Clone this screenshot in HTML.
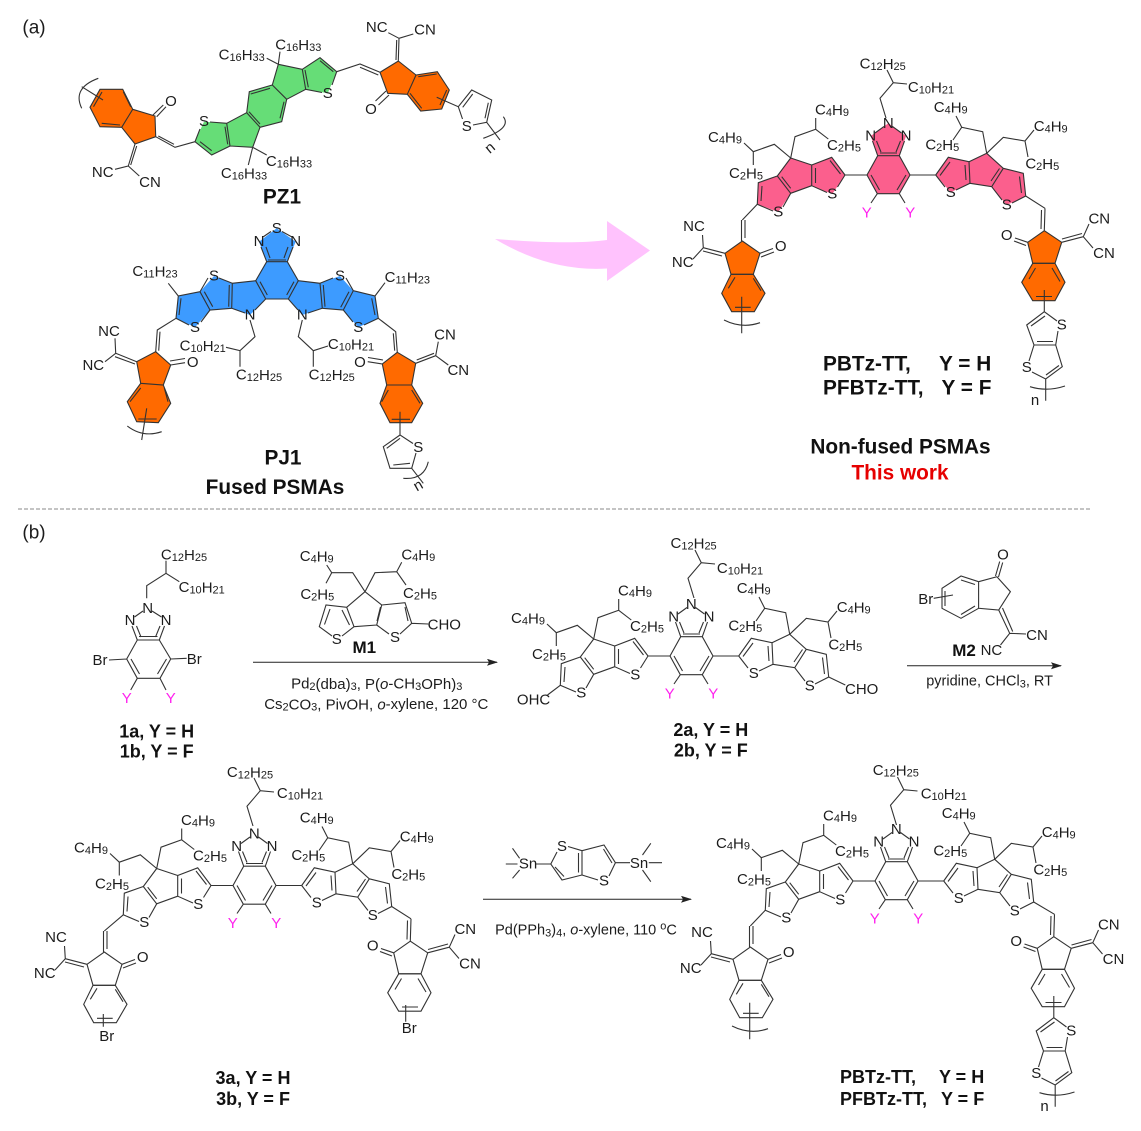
<!DOCTYPE html>
<html><head><meta charset="utf-8"><title>PSMAs</title>
<style>
html,body{margin:0;padding:0;background:#fff}
svg{display:block}
text{font-family:"Liberation Sans",sans-serif;font-size:15px;fill:#1c1c1c;text-anchor:middle;dominant-baseline:central}
.s{font-size:11px}
.b{font-weight:bold;font-size:18px;fill:#111}
.m{font-size:17px}
.B{font-weight:bold;font-size:20.8px;fill:#111}
.h{font-size:19px}
.y{fill:#ff22ee}
.l{text-anchor:start}
.sk{fill:none;stroke:#333;stroke-width:1.1}
</style></head><body>
<svg width="1141" height="1131" viewBox="0 0 1141 1131" xmlns="http://www.w3.org/2000/svg">
<defs>
<g id="core" class="sk">
<path d="M877.7 155.7L899.3 155.7L910 175L899.3 193.7L877.3 193.7L867 175ZM880 153L897 153M871 175L879.5 190M906 175L897 190M877.7 155.7L872.5 141M881 152L876.5 141M899.3 155.7L904.5 141M896 152L900.5 141M875 133L884 126.5M892.5 126.5L901.5 133M877.3 193.7L871 203M899.3 193.7L905 203M867 175L845 175M910 175L935.7 175"/>
<path d="M845 175L831.7 157.3L811.7 165L811.7 185.7L827 192.5M845 175L837.5 187M840.5 174L830 160.5M815.5 168L815.5 183M790.7 158L811.7 165M811.7 185.7L790.7 193.3L777.3 176L790.7 158M781.7 176.7L790.7 188.3M777.3 176L758.3 182.7L757.3 204.3L773 211M762 186L761 201M790.7 193.3L783 207"/>
<path d="M790.7 158L795 136.7L815.7 129.3L815.7 118M815.7 129.3L828.3 139M790.7 158L774.3 144.3L753.3 151.7L744 143M753.3 151.7L753.3 165M986.7 153.3L982.7 131.7L961.7 127.3L956 116M961.7 127.3L953 140M986.7 153.3L1003.3 137.3L1025 141L1034 130M1025 141L1028 157"/>
<path d="M935.7 175L948.3 157.3L969 161.7L970 183.3L956 190M935.7 175L945 187M940 175.5L950 162M965 165L966 180M969 161.7L986.7 153.3L1003.3 168.3L991.7 186.7L970 183.3M991 181L999.5 168.5M1003.3 168.3L1023.3 173.3L1025.7 196L1012 203M1019.5 176.5L1021.5 193M991.7 186.7L1002 200"/>
</g>
<path id="na" class="sk" d="M886 118L880 98.3L893.3 82.7L907 84M893.3 82.7L887 70"/>
<g id="endL" class="sk"><path d="M741.5 220L741.5 241M745 220L745 238M742.3 241L760 253.3L753.3 274.3L731 274.3L725 253.3ZM760 253.3L773 248.5M761 257L774 252M725 253.3L703.3 247.7M722 256L703 251M703.3 247.7L702.5 235M703.3 247.7L693 259"/>
<path d="M731 274.3L753.3 274.3L765 293.3L754.3 311.7L731.7 311.7L721.7 293.3ZM728.3 288.3L735 277.3M753.3 278.3L761 290.7M735 307.3L750.7 307.3"/></g>
<g id="endR" class="sk"><path d="M1045 208.3L1044.3 230.7M1041.5 210L1041 229M1044.3 230.7L1027.7 242.3L1032.7 263.3L1055 263.3L1061.7 242.3ZM1027.7 242.3L1015 238M1026 245.5L1014 241M1061.7 242.3L1083.3 236.7M1062 239L1082 233.5M1083.3 236.7L1089 224M1083.3 236.7L1093 248"/>
<path d="M1032.7 263.3L1055 263.3L1065 282.3L1055 300.7L1032.7 300.7L1021.7 282.3ZM1029 279L1035.5 268M1052 268L1060 281.5M1036 296.5L1052 296.5"/></g>
<path id="brL" class="sk" d="M741.7 296.7L741.7 333.3M724 320Q742 329 760 322.7"/>
<path id="tt" class="sk" d="M1044.3 290L1044.3 311.7L1057 321M1058 331L1055.7 345L1034 345L1026.7 325L1044.3 311.7M1045 316L1031 326M1037 341.5L1053 341.5M1034 345L1029 361M1055.7 345L1062.3 366.7L1045.7 379L1032 372M1059 365.5L1046 375M1045.7 379L1045.7 400.7M1030 386.7Q1047 392 1065 386"/>
<marker id="ah" markerWidth="12" markerHeight="8" refX="10" refY="3.5" orient="auto" markerUnits="userSpaceOnUse"><path d="M0 0L11 3.5L0 7L2 3.5Z" fill="#222"/></marker>
</defs>

<text class="h" x="34" y="28">(a)</text>
<text class="h" x="34" y="533">(b)</text>
<line x1="18" y1="509" x2="1090" y2="509" stroke="#8a8a8a" stroke-width="1" stroke-dasharray="4 2"/>

<!-- PZ1 -->
<g fill="#ff6a00">
<polygon points="100,89.3 122.7,89.3 132.7,109.3 121.7,127.3 100,126.7 90,107.3"/>
<polygon points="132.7,109.3 155,116 155.7,136.7 135,144 121.7,127.3"/>
<polygon points="380,72.3 398.3,61 416,75 407.3,94.3 387.7,93.3"/>
<polygon points="416,75 437.3,71.7 449.3,90 441.7,109 420.7,111 407.3,94.3"/>
</g>
<g fill="#66dd77">
<polygon points="195,141.7 211.7,155 230,146 226.7,123.3 204,121.7"/>
<polygon points="230,146 226.7,123.3 246.7,112.7 260,127.3 252.7,147.3"/>
<polygon points="246.7,112.7 249.3,91.7 272.3,85 286.7,99.3 281.7,121.7 260,127.3"/>
<polygon points="272.3,85 278.3,64.3 302.3,69.3 305.7,89.3 286.7,99.3"/>
<polygon points="302.3,69.3 320,57.7 336.7,71.7 327.7,93.3 305.7,89.3"/>
</g>
<path class="sk" d="M100 89.3L122.7 89.3L132.7 109.3L121.7 127.3L100 126.7L90 107.3ZM123.3 91.7L130.7 106.7M101.7 123.3L120 125M93.5 106.7L102 92M132.7 109.3L155 116L155.7 136.7L135 144L121.7 127.3M153 115L163.3 105M156.7 116.7L166 106.7M155.7 136.7L175 147.3L195 141.7M158.3 136L174 144.3M135 144L128.3 166M136.7 146L130.7 165M128.3 166L115 169.3M128.3 166L139.3 176M81.7 86.7L103 100M98.3 78.3Q72 88 81.7 108.3"/>
<path class="sk" d="M195 141.7L211.7 155L230 146L226.7 123.3L210 122M195 141.7L200 129M200 141.7L211.7 150.7M227.7 144.3L225 126.7M226.7 123.3L246.7 112.7L260 127.3L252.7 147.3L230 146M249 111.7L260 124M246.7 112.7L249.3 91.7L272.3 85L286.7 99.3L281.7 121.7L260 127.3M250.7 94L270 88.3M284 101.7L280 118.3M272.3 85L278.3 64.3L302.3 69.3L305.7 89.3L286.7 99.3M305 70L308.3 87.3M302.3 69.3L320 57.7L336.7 71.7L332 85M305.7 89.3L322 92.5M320 60.7L333.3 71.7M278.3 64.3L266.7 58.3M278.3 64.3L280 51.7M252.7 147.3L248.3 165M252.7 147.3L266.7 155"/>
<path class="sk" d="M336.7 71.7L360 64L380 72.3M360 67.3L378.3 75M380 72.3L398.3 61L416 75L407.3 94.3L387.7 93.3ZM386 91L375.5 101M389 95L378.5 105M398.3 61L399 38.3M396 60L396.7 40M399 38.3L388.3 32.7M399 38.3L413.3 34M416 75L437.3 71.7L449.3 90L441.7 109L420.7 111L407.3 94.3M418.3 76.7L436.7 74M446.7 90L440 105M421.7 108.3L410 93.3M436.7 97.3L458.3 106.7L471.7 90L491.7 100L486.7 122.3L473 125M458.3 106.7L462.5 119M462.7 107.3L472.7 94M488.3 102.7L485 118.3M486.7 122.3L500 140M503.3 116.7Q512 128 483.3 138.3"/>
<text x="102.7" y="172.3">NC</text><text x="150" y="182.3">CN</text><text x="171" y="101.7">O</text>
<text x="204" y="121.7">S</text><text x="327.7" y="93.3">S</text><text x="466.7" y="126.7">S</text><text x="371" y="109.3">O</text>
<text x="376.7" y="27.3">NC</text><text x="425" y="30">CN</text>
<text x="241.7" y="55">C<tspan class="s" dy="3">16</tspan><tspan dy="-3">H</tspan><tspan class="s" dy="3">33</tspan></text>
<text x="298.3" y="45">C<tspan class="s" dy="3">16</tspan><tspan dy="-3">H</tspan><tspan class="s" dy="3">33</tspan></text>
<text x="289" y="161.7">C<tspan class="s" dy="3">16</tspan><tspan dy="-3">H</tspan><tspan class="s" dy="3">33</tspan></text>
<text x="244" y="173.3">C<tspan class="s" dy="3">16</tspan><tspan dy="-3">H</tspan><tspan class="s" dy="3">33</tspan></text>
<text x="490" y="148" transform="rotate(-40 490 148)">n</text>
<text class="B" x="282" y="197">PZ1</text>

<!-- PJ1 -->
<g fill="#3d9bff">
<polygon points="266.7,261.7 259,241.7 276.7,228.3 295.7,241.7 287.3,261.7"/>
<polygon points="266.7,261.7 287.3,261.7 298.3,280.7 288.3,299 265.7,299 255.7,280.7"/>
<polygon points="255.7,280.7 265.7,299 250,315 231.7,308.3 232.3,283.3"/>
<polygon points="232.3,283.3 231.7,308.3 210,310 200,291.7 214,276"/>
<polygon points="200,291.7 210,310 195,327.3 176,318.3 178.3,296"/>
<polygon points="298.3,280.7 288.3,299 302.3,315 322.3,308.3 320,283.3"/>
<polygon points="320,283.3 322.3,308.3 343.3,310 353.3,290.7 340,276"/>
<polygon points="353.3,290.7 343.3,310 358.3,327.3 378.3,318.3 375,296"/>
</g>
<g fill="#ff6a00">
<polygon points="155.7,351.7 170.7,365 163.3,385 140.7,383.3 136.7,361.7"/>
<polygon points="140.7,383.3 163.3,385 170.7,403.3 158.3,422.7 136.7,421.7 127.3,401.7"/>
<polygon points="397.3,352.3 415.7,363.3 411.7,385 386.7,385 382.3,364"/>
<polygon points="386.7,385 411.7,385 422.7,403.3 411.7,422.7 390,422.7 380,403.3"/>
</g>
<path class="sk" d="M266.7 261.7L287.3 261.7L298.3 280.7L288.3 299L265.7 299L255.7 280.7ZM266.7 261.7L261 247M270 258L266 247M263 237L271 231.5M292 237L282 231.5M287.3 261.7L293 247M284 258L288 247M268 260L286 260M260 281.7L267.3 295M294 281.7L286.7 295"/>
<path class="sk" d="M255.7 280.7L232.3 283.3L231.7 308.3L245 313M265.7 299L255 310M229.3 285L228.7 306.7M232.3 283.3L219 278M208 278L200 291.7L210 310L231.7 308.3M204.3 291.7L212.7 306.7M200 291.7L178.3 296L176 318.3L189 325M210 310L201 322M181 298.3L179 315M178.3 296L168.3 283.3M176 318.3L157.3 330L155.7 351.7M160 331.7L158.7 350.7"/>
<path class="sk" d="M155.7 351.7L170.7 365L163.3 385L140.7 383.3L136.7 361.7ZM170.7 365L185 362.7M170 361L185 358.5M136.7 361.7L115.7 353.3M135 364L115 356.7M115.7 353.3L115 338.3M115.7 353.3L105 361.7M140.7 383.3L163.3 385L170.7 403.3L158.3 422.7L136.7 421.7L127.3 401.7ZM140.7 388L130 401.7M164.3 388L168 401.7M138.3 419L156.7 419M146.7 408.3L141.7 440M127.3 426Q143 438 161.7 431.7"/>
<path class="sk" d="M250 320L255 336.7L240 350.7L226 347.3M240 350.7L240 366.7M302.3 320L298.3 336.7L313.3 350.7L328 346M313.3 350.7L313.3 366.7"/>
<path class="sk" d="M298.3 280.7L320 283.3L322.3 308.3L308 313M288.3 299L298 310M323.3 285L325 306.7M320 283.3L333 278M346 278L353.3 290.7L343.3 310L322.3 308.3M349 291.7L340.7 307.3M353.3 290.7L375 296L378.3 318.3L364 325M343.3 310L353 322M371.7 298.3L375 315M375 296L385 282.7M378.3 318.3L395.7 331.7L397.3 352.3M393.3 333.3L394.7 350.7"/>
<path class="sk" d="M397.3 352.3L415.7 363.3L411.7 385L386.7 385L382.3 364ZM382.3 364L367.7 361.7M383 360L368 357.5M415.7 363.3L435.7 355.7M416.7 360L434 353.3M435.7 355.7L438.3 341.7M435.7 355.7L448.3 365M386.7 385L411.7 385L422.7 403.3L411.7 422.7L390 422.7L380 403.3ZM388.3 390L381.7 401.7M411.7 390L420 403.3M391.7 419.3L410 419.3M400 411.7L400 435L413 443.5M386.7 448.3L400 438.3M400 435L383.3 446.7L390 468.3L411.7 468.3L416 453M393.3 465L410 463.3M411.7 468.3L423.3 483.3M403.3 478.3Q424 480 428.3 461.7"/>
<text x="276.7" y="228.3">S</text><text x="259" y="241.7">N</text><text x="295.7" y="241.7">N</text>
<text x="214" y="276">S</text><text x="195" y="327.3">S</text><text x="340" y="276">S</text><text x="358.3" y="327.3">S</text>
<text x="250" y="315">N</text><text x="302.3" y="315">N</text>
<text x="155" y="271.7">C<tspan class="s" dy="3">11</tspan><tspan dy="-3">H</tspan><tspan class="s" dy="3">23</tspan></text>
<text x="407.3" y="277.3">C<tspan class="s" dy="3">11</tspan><tspan dy="-3">H</tspan><tspan class="s" dy="3">23</tspan></text>
<text x="202.7" y="346">C<tspan class="s" dy="3">10</tspan><tspan dy="-3">H</tspan><tspan class="s" dy="3">21</tspan></text>
<text x="351" y="344.3">C<tspan class="s" dy="3">10</tspan><tspan dy="-3">H</tspan><tspan class="s" dy="3">21</tspan></text>
<text x="259" y="375">C<tspan class="s" dy="3">12</tspan><tspan dy="-3">H</tspan><tspan class="s" dy="3">25</tspan></text>
<text x="331.7" y="375">C<tspan class="s" dy="3">12</tspan><tspan dy="-3">H</tspan><tspan class="s" dy="3">25</tspan></text>
<text x="109" y="331.7">NC</text><text x="93.3" y="365.7">NC</text><text x="192.7" y="362.7">O</text>
<text x="360" y="362.3">O</text><text x="445" y="335">CN</text><text x="458.3" y="370.7">CN</text>
<text x="418.3" y="447.3">S</text><text x="418.3" y="485.7" transform="rotate(-30 418.3 485.7)">n</text>
<text class="B" x="283" y="458">PJ1</text>
<text class="B" x="275" y="487.5">Fused PSMAs</text>

<!-- arrow -->
<path d="M495 239Q570 245 607 240L607 221L650 250.5L607 281L607 268.5Q550 272 495 239Z" fill="#ffc2fd"/>

<!-- top right -->
<g fill="#fb5f8d">
<polygon points="877.7,155.7 870.7,136 888.3,123.3 906,136 899.3,155.7"/>
<polygon points="877.7,155.7 899.3,155.7 910,175 899.3,193.7 877.3,193.7 867,175"/>
<polygon points="845,175 831.7,157.3 811.7,165 811.7,185.7 832.3,194"/>
<polygon points="790.7,158 811.7,165 811.7,185.7 790.7,193.3 777.3,176"/>
<polygon points="777.3,176 790.7,193.3 778.3,212 757.3,204.3 758.3,182.7"/>
<polygon points="935.7,175 948.3,157.3 969,161.7 970,183.3 950.7,192.3"/>
<polygon points="986.7,153.3 969,161.7 970,183.3 991.7,186.7 1003.3,168.3"/>
<polygon points="1003.3,168.3 1023.3,173.3 1025.7,196 1006.7,205 991.7,186.7"/>
</g>
<g fill="#ff6a00">
<polygon points="742.3,241 760,253.3 753.3,274.3 731,274.3 725,253.3"/>
<polygon points="731,274.3 753.3,274.3 765,293.3 754.3,311.7 731.7,311.7 721.7,293.3"/>
<polygon points="1044.3,230.7 1027.7,242.3 1032.7,263.3 1055,263.3 1061.7,242.3"/>
<polygon points="1032.7,263.3 1055,263.3 1065,282.3 1055,300.7 1032.7,300.7 1021.7,282.3"/>
</g>
<use href="#core"/><use href="#na"/><use href="#endL"/><use href="#endR"/><use href="#brL"/><use href="#tt"/>
<path class="sk" d="M757.3 204.3L742.3 220M1025.7 196L1045 208.3"/>
<g>
<text x="882.7" y="64">C<tspan class="s" dy="3">12</tspan><tspan dy="-3">H</tspan><tspan class="s" dy="3">25</tspan></text>
<text x="931" y="87.3">C<tspan class="s" dy="3">10</tspan><tspan dy="-3">H</tspan><tspan class="s" dy="3">21</tspan></text>
<text x="888.3" y="123.3">N</text><text x="870.7" y="136">N</text><text x="906" y="136">N</text>
<text class="y" x="866.7" y="213">Y</text><text class="y" x="910.3" y="213">Y</text>
<text x="832.3" y="194">S</text><text x="778.3" y="212">S</text><text x="950.7" y="192.3">S</text><text x="1006.7" y="205">S</text>
<text x="725" y="137.3">C<tspan class="s" dy="3">4</tspan><tspan dy="-3">H</tspan><tspan class="s" dy="3">9</tspan></text>
<text x="746" y="173.3">C<tspan class="s" dy="3">2</tspan><tspan dy="-3">H</tspan><tspan class="s" dy="3">5</tspan></text>
<text x="832" y="110">C<tspan class="s" dy="3">4</tspan><tspan dy="-3">H</tspan><tspan class="s" dy="3">9</tspan></text>
<text x="844" y="145.7">C<tspan class="s" dy="3">2</tspan><tspan dy="-3">H</tspan><tspan class="s" dy="3">5</tspan></text>
<text x="950.7" y="107.7">C<tspan class="s" dy="3">4</tspan><tspan dy="-3">H</tspan><tspan class="s" dy="3">9</tspan></text>
<text x="942.3" y="145">C<tspan class="s" dy="3">2</tspan><tspan dy="-3">H</tspan><tspan class="s" dy="3">5</tspan></text>
<text x="1050.7" y="126.7">C<tspan class="s" dy="3">4</tspan><tspan dy="-3">H</tspan><tspan class="s" dy="3">9</tspan></text>
<text x="1042.3" y="164">C<tspan class="s" dy="3">2</tspan><tspan dy="-3">H</tspan><tspan class="s" dy="3">5</tspan></text>
<text x="694" y="226.7">NC</text><text x="682.7" y="262.7">NC</text><text x="780.7" y="246.7">O</text>
<text x="1099.3" y="219">CN</text><text x="1104" y="253.3">CN</text><text x="1006.7" y="235.7">O</text>
<text x="1061.7" y="325">S</text><text x="1026.7" y="367.3">S</text><text x="1035" y="400.7">n</text>
</g>
<text class="B l" x="823" y="364">PBTz-TT,</text><text class="B l" x="939" y="364">Y = H</text>
<text class="B l" x="823" y="388">PFBTz-TT,</text><text class="B l" x="941.5" y="388">Y = F</text>
<text class="B" x="900.5" y="447">Non-fused PSMAs</text>
<text class="B" x="900" y="473" style="fill:#e60000">This work</text>

<!-- compound 1 -->
<path class="sk" d="M166 560.7L166 573.3L179.3 581.7M166 573.3L146.7 585.7L146.7 598.3M137.3 640L159.3 640L170.7 659L160 678.3L137.3 678.3L126.7 659ZM139 636.5L157.5 636.5M131 659L139.5 674M166.5 659L157.5 674M137.3 640L132 626M141 637L136.5 626M159.3 640L164.5 626M155.5 637L160 626M134.5 617L143 611M152 611L161.5 617M109 660L126.7 659M170.7 659L186.7 658.3M137.3 678.3L130.7 690M160 678.3L166 690"/>
<text x="184" y="555">C<tspan class="s" dy="3">12</tspan><tspan dy="-3">H</tspan><tspan class="s" dy="3">25</tspan></text>
<text x="201.7" y="587.3">C<tspan class="s" dy="3">10</tspan><tspan dy="-3">H</tspan><tspan class="s" dy="3">21</tspan></text>
<text x="147.7" y="608.3">N</text><text x="130" y="620.7">N</text><text x="166" y="620.7">N</text>
<text x="100" y="660.7">Br</text><text x="194.3" y="659.3">Br</text>
<text class="y" x="126.7" y="698.3">Y</text><text class="y" x="170.7" y="698.3">Y</text>
<text class="b" x="156.7" y="731.5">1a, Y = H</text><text class="b" x="156.7" y="751.5">1b, Y = F</text>

<!-- M1 -->
<path class="sk" d="M365 591.7L352.7 572.7L331.7 572.7L326.7 565M331.7 572.7L326 583.3M365 591.7L375 572.7L396.7 571.7L401.7 562.3M396.7 571.7L406 585M365 591.7L346.7 607.3L326 605L319.3 626.7L332 636M354 626.7L342 636M346.7 607.3L354 626.7M342 610L349.5 625M330 609L324.5 624.5M354 626.7L376.7 625L381.7 605L365 591.7M376.7 625L389 634M381.7 605L405 602.7L411.7 623.3L400 634M377 621L380.5 607M405 607L408 621M411.7 623.3L428.3 624"/>
<text x="316.7" y="556.7">C<tspan class="s" dy="3">4</tspan><tspan dy="-3">H</tspan><tspan class="s" dy="3">9</tspan></text>
<text x="418.3" y="555">C<tspan class="s" dy="3">4</tspan><tspan dy="-3">H</tspan><tspan class="s" dy="3">9</tspan></text>
<text x="317.3" y="594.3">C<tspan class="s" dy="3">2</tspan><tspan dy="-3">H</tspan><tspan class="s" dy="3">5</tspan></text>
<text x="420" y="593.3">C<tspan class="s" dy="3">2</tspan><tspan dy="-3">H</tspan><tspan class="s" dy="3">5</tspan></text>
<text x="336.7" y="639.3">S</text><text x="395" y="637.3">S</text><text x="444.3" y="625">CHO</text>
<text class="b m" x="364.3" y="647.3">M1</text>
<line x1="253" y1="662.3" x2="497" y2="662.3" stroke="#222" marker-end="url(#ah)"/>
<text x="376.7" y="684">Pd<tspan class="s" dy="3">2</tspan><tspan dy="-3">(dba)</tspan><tspan class="s" dy="3">3</tspan><tspan dy="-3">, P(</tspan><tspan font-style="italic">o</tspan>-CH<tspan class="s" dy="3">3</tspan><tspan dy="-3">OPh)</tspan><tspan class="s" dy="3">3</tspan></text>
<text x="376.3" y="704.3">Cs<tspan class="s" dy="3">2</tspan><tspan dy="-3">CO</tspan><tspan class="s" dy="3">3</tspan><tspan dy="-3">, PivOH, </tspan><tspan font-style="italic">o</tspan>-xylene, 120 °C</text>

<!-- 2a -->
<use href="#core" transform="translate(-197 481)"/>
<use href="#na" transform="translate(-192 480)"/>
<path class="sk" d="M560.3 685.3L547.5 695M828.7 677L845.3 685"/>
<text x="693.6" y="543.3">C<tspan class="s" dy="3">12</tspan><tspan dy="-3">H</tspan><tspan class="s" dy="3">25</tspan></text>
<text x="740" y="568.3">C<tspan class="s" dy="3">10</tspan><tspan dy="-3">H</tspan><tspan class="s" dy="3">21</tspan></text>
<text x="691.3" y="604.3">N</text><text x="673.7" y="617">N</text><text x="709" y="617">N</text>
<text class="y" x="669.7" y="694">Y</text><text class="y" x="713.3" y="694">Y</text>
<text x="635.3" y="675">S</text><text x="581.3" y="693">S</text><text x="753.7" y="673.3">S</text><text x="809.7" y="686">S</text>
<text x="528" y="618.3">C<tspan class="s" dy="3">4</tspan><tspan dy="-3">H</tspan><tspan class="s" dy="3">9</tspan></text>
<text x="549" y="654.3">C<tspan class="s" dy="3">2</tspan><tspan dy="-3">H</tspan><tspan class="s" dy="3">5</tspan></text>
<text x="635" y="591">C<tspan class="s" dy="3">4</tspan><tspan dy="-3">H</tspan><tspan class="s" dy="3">9</tspan></text>
<text x="647" y="626.7">C<tspan class="s" dy="3">2</tspan><tspan dy="-3">H</tspan><tspan class="s" dy="3">5</tspan></text>
<text x="753.7" y="588.7">C<tspan class="s" dy="3">4</tspan><tspan dy="-3">H</tspan><tspan class="s" dy="3">9</tspan></text>
<text x="745.3" y="626">C<tspan class="s" dy="3">2</tspan><tspan dy="-3">H</tspan><tspan class="s" dy="3">5</tspan></text>
<text x="853.7" y="607.7">C<tspan class="s" dy="3">4</tspan><tspan dy="-3">H</tspan><tspan class="s" dy="3">9</tspan></text>
<text x="845.3" y="645">C<tspan class="s" dy="3">2</tspan><tspan dy="-3">H</tspan><tspan class="s" dy="3">5</tspan></text>
<text x="533.6" y="700">OHC</text><text x="861.7" y="689.3">CHO</text>
<text class="b" x="710.8" y="730">2a, Y = H</text><text class="b" x="710.8" y="750.5">2b, Y = F</text>

<!-- M2 -->
<path class="sk" d="M996.9 576.7L1010.4 591.7L998.7 610L978.6 608.3L978.6 581.7ZM995.5 576L999.7 561.5M998.5 577L1002.7 562.5M978.6 581.7L961 576L942 588.3L942 608.3L961 618.3L978.6 608.3M961 580L975 584.5M945 591L945 606M961 614.5L975 606M933.7 598.3L953 595M998.7 610L1009.7 633.3M1002.5 608L1012.7 631.5M1009.7 633.3L1026 634M1009.7 633.3L1000.5 645"/>
<text x="1003" y="555">O</text><text x="925.7" y="599.3">Br</text><text x="1037" y="635.7">CN</text><text x="991.4" y="650.7">NC</text>
<text class="b m" x="964" y="650.7">M2</text>
<line x1="907" y1="665.7" x2="1061" y2="665.7" stroke="#222" marker-end="url(#ah)"/>
<text x="989.6" y="681.7" style="font-size:14.5px">pyridine, CHCl<tspan class="s" dy="3">3</tspan><tspan dy="-3">, RT</tspan></text>

<!-- 3a -->
<use href="#core" transform="translate(-634 710.5)"/>
<use href="#na" transform="translate(-633 708)"/>
<use href="#endL" transform="translate(-638 711)"/>
<use href="#endR" transform="translate(-634 710.5)"/>
<path class="sk" d="M123.3 914.8L104.3 931M391.7 906.5L411 918.8M103.3 1014L103.3 1026.7M405.7 1005L405.7 1021.7"/>
<text x="250" y="772.7">C<tspan class="s" dy="3">12</tspan><tspan dy="-3">H</tspan><tspan class="s" dy="3">25</tspan></text>
<text x="300" y="793.3">C<tspan class="s" dy="3">10</tspan><tspan dy="-3">H</tspan><tspan class="s" dy="3">21</tspan></text>
<text x="254.3" y="833.8">N</text><text x="236.7" y="846.5">N</text><text x="272" y="846.5">N</text>
<text class="y" x="232.7" y="923.5">Y</text><text class="y" x="276.3" y="923.5">Y</text>
<text x="198.3" y="904.5">S</text><text x="144.3" y="922.5">S</text><text x="316.7" y="902.8">S</text><text x="372.7" y="915.5">S</text>
<text x="91" y="847.8">C<tspan class="s" dy="3">4</tspan><tspan dy="-3">H</tspan><tspan class="s" dy="3">9</tspan></text>
<text x="112" y="883.8">C<tspan class="s" dy="3">2</tspan><tspan dy="-3">H</tspan><tspan class="s" dy="3">5</tspan></text>
<text x="198" y="820.5">C<tspan class="s" dy="3">4</tspan><tspan dy="-3">H</tspan><tspan class="s" dy="3">9</tspan></text>
<text x="210" y="856.2">C<tspan class="s" dy="3">2</tspan><tspan dy="-3">H</tspan><tspan class="s" dy="3">5</tspan></text>
<text x="316.7" y="818.2">C<tspan class="s" dy="3">4</tspan><tspan dy="-3">H</tspan><tspan class="s" dy="3">9</tspan></text>
<text x="308.3" y="855.5">C<tspan class="s" dy="3">2</tspan><tspan dy="-3">H</tspan><tspan class="s" dy="3">5</tspan></text>
<text x="416.7" y="837.2">C<tspan class="s" dy="3">4</tspan><tspan dy="-3">H</tspan><tspan class="s" dy="3">9</tspan></text>
<text x="408.3" y="874.5">C<tspan class="s" dy="3">2</tspan><tspan dy="-3">H</tspan><tspan class="s" dy="3">5</tspan></text>
<text x="56" y="937.7">NC</text><text x="44.7" y="973.7">NC</text><text x="142.7" y="957.7">O</text>
<text x="465.3" y="929.5">CN</text><text x="470" y="963.8">CN</text><text x="372.7" y="946.2">O</text>
<text x="106.7" y="1036.7">Br</text><text x="409.3" y="1028.3">Br</text>
<text class="b" x="253" y="1078">3a, Y = H</text><text class="b" x="253" y="1099">3b, Y = F</text>

<!-- Sn reagent -->
<path class="sk" d="M536 864L550.8 864L562 880L582 875L582 850.7L604 845L615.4 862.7L630 862.7M555 867L564 876.5M578.5 853L578.5 872.5M603.5 849L612 863M550.8 864L557 852M582 850.7L568 846.5M582 875L598 880M615.4 862.7L609 876M519.6 858.3L512.5 848.3M517.5 864L505.8 864M519.6 870L512.5 878.3M642.5 855L650.8 843.3M648.8 862.7L662 862.7M642.5 870L650.8 881.7"/>
<text x="562" y="846.7">S</text><text x="604" y="881">S</text><text x="528" y="864">Sn</text><text x="639" y="863.3">Sn</text>
<line x1="483" y1="899.3" x2="691" y2="899.3" stroke="#222" marker-end="url(#ah)"/>
<text x="586" y="930.7" style="font-size:14.5px">Pd(PPh<tspan class="s" dy="3">3</tspan><tspan dy="-3">)</tspan><tspan class="s" dy="3">4</tspan><tspan dy="-3">, </tspan><tspan font-style="italic">o</tspan>-xylene, 110 <tspan class="s" dy="-4">o</tspan><tspan dy="4">C</tspan></text>

<!-- polymer -->
<use href="#core" transform="translate(8 706)"/>
<use href="#na" transform="translate(10.5 707)"/>
<use href="#endL" transform="translate(8 706)"/>
<use href="#endR" transform="translate(9.5 706)"/>
<use href="#brL" transform="translate(8 706)"/>
<use href="#tt" transform="translate(9.5 706)"/>
<path class="sk" d="M765.3 910.3L750.3 926M1033.7 902L1054.5 914.3"/>
<text x="895.8" y="770.7">C<tspan class="s" dy="3">12</tspan><tspan dy="-3">H</tspan><tspan class="s" dy="3">25</tspan></text>
<text x="943.8" y="794">C<tspan class="s" dy="3">10</tspan><tspan dy="-3">H</tspan><tspan class="s" dy="3">21</tspan></text>
<text x="896.3" y="829.3">N</text><text x="878.7" y="842">N</text><text x="914" y="842">N</text>
<text class="y" x="874.7" y="919">Y</text><text class="y" x="918.3" y="919">Y</text>
<text x="840.3" y="900">S</text><text x="786.3" y="918">S</text><text x="958.7" y="898.3">S</text><text x="1014.7" y="911">S</text>
<text x="733" y="843.3">C<tspan class="s" dy="3">4</tspan><tspan dy="-3">H</tspan><tspan class="s" dy="3">9</tspan></text>
<text x="754" y="879.3">C<tspan class="s" dy="3">2</tspan><tspan dy="-3">H</tspan><tspan class="s" dy="3">5</tspan></text>
<text x="840" y="816">C<tspan class="s" dy="3">4</tspan><tspan dy="-3">H</tspan><tspan class="s" dy="3">9</tspan></text>
<text x="852" y="851.7">C<tspan class="s" dy="3">2</tspan><tspan dy="-3">H</tspan><tspan class="s" dy="3">5</tspan></text>
<text x="958.7" y="813.7">C<tspan class="s" dy="3">4</tspan><tspan dy="-3">H</tspan><tspan class="s" dy="3">9</tspan></text>
<text x="950.3" y="851">C<tspan class="s" dy="3">2</tspan><tspan dy="-3">H</tspan><tspan class="s" dy="3">5</tspan></text>
<text x="1058.7" y="832.7">C<tspan class="s" dy="3">4</tspan><tspan dy="-3">H</tspan><tspan class="s" dy="3">9</tspan></text>
<text x="1050.3" y="870">C<tspan class="s" dy="3">2</tspan><tspan dy="-3">H</tspan><tspan class="s" dy="3">5</tspan></text>
<text x="702" y="932.7">NC</text><text x="690.7" y="968.7">NC</text><text x="788.7" y="952.7">O</text>
<text x="1108.8" y="925">CN</text><text x="1113.5" y="959.3">CN</text><text x="1016.2" y="941.7">O</text>
<text x="1071.2" y="1031">S</text><text x="1036.2" y="1073.3">S</text><text x="1044.5" y="1106.7">n</text>
<text class="b l" x="840" y="1077">PBTz-TT,</text><text class="b l" x="939" y="1077">Y = H</text>
<text class="b l" x="840" y="1099">PFBTz-TT,</text><text class="b l" x="941" y="1099">Y = F</text>
</svg>
</body></html>
